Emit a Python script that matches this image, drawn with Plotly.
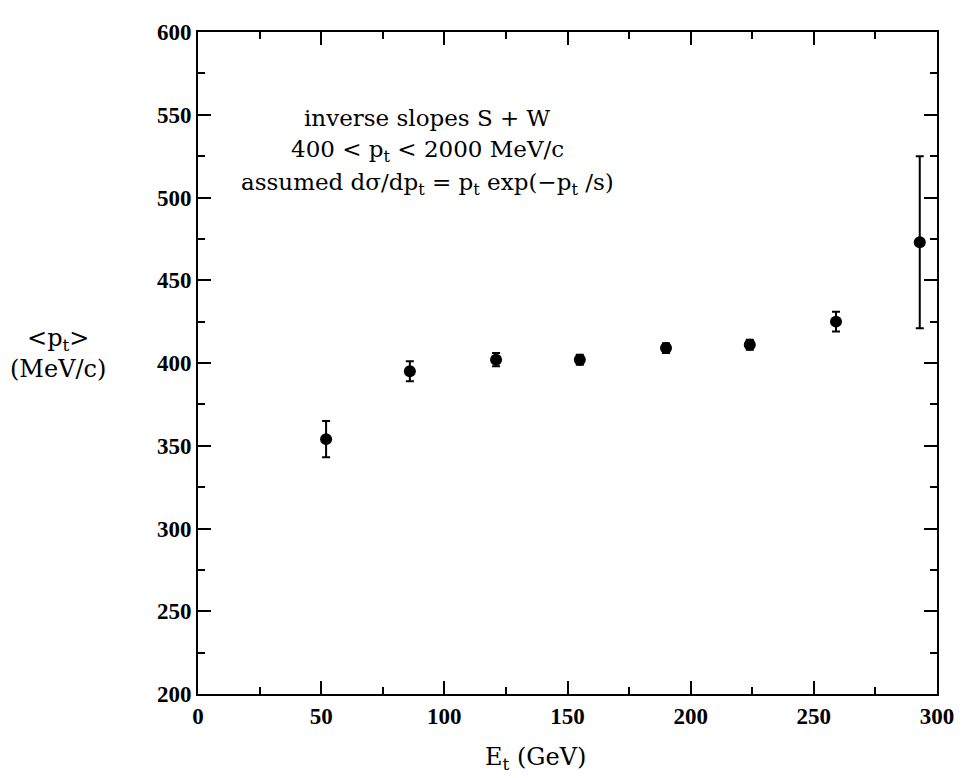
import plotly.graph_objects as go

et_gev = [52, 86, 121, 155, 190, 224, 259, 293]
mean_pt = [354, 395, 402, 402, 409, 411, 425, 473]
pt_err = [11, 6, 4, 3, 3, 3, 6, 52]

x_ticks = [0, 50, 100, 150, 200, 250, 300]
y_ticks = [200, 250, 300, 350, 400, 450, 500, 550, 600]

annot_lines = ["inverse slopes S + W",
               "400 < p<sub>t</sub> < 2000 MeV/c",
               "assumed dσ/dp<sub>t</sub> = p<sub>t</sub> exp(−p<sub>t</sub> /s)"]

fig = go.Figure()
fig.add_trace(go.Scatter(
    x=et_gev, y=mean_pt, mode="markers",
    marker=dict(color="black", size=12, symbol="circle"),
    error_y=dict(type="data", array=pt_err, color="black", thickness=2, width=4),
    showlegend=False,
))

tickfont = dict(family="Liberation Serif", size=23, color="black")
common = dict(showgrid=False, zeroline=False, showline=True, linecolor="black",
              linewidth=2, mirror="allticks", ticks="inside", ticklen=13,
              tickwidth=2, tickcolor="black", tickfont=tickfont,
              minor=dict(ticks="inside", ticklen=7, tickwidth=2, tickcolor="black"))

fig.update_xaxes(range=[0, 300], tickvals=x_ticks,
                 ticktext=[f"<b>{v}</b>" for v in x_ticks],
                 minor_dtick=25, **common)
fig.update_yaxes(range=[200, 600], tickvals=y_ticks,
                 ticktext=[f"<b>{v}</b>" for v in y_ticks],
                 minor_dtick=25, **common)

serif = dict(family="DejaVu Serif", size=23, color="black")
for i, line in enumerate(annot_lines):
    fig.add_annotation(x=0.31, y=0.87 - i * 0.05, xref="paper", yref="paper",
                       text=line, showarrow=False, font=serif,
                       xanchor="center", yanchor="middle")
fig.add_annotation(x=-0.19, y=0.515, xref="paper", yref="paper",
                   text="<p<sub>t</sub>><br>(MeV/c)", showarrow=False,
                   font=dict(family="DejaVu Serif", size=24, color="black"),
                   align="center", xanchor="center", yanchor="middle")
fig.add_annotation(x=0.457, y=-0.097, xref="paper", yref="paper",
                   text="E<sub>t</sub> (GeV)", showarrow=False,
                   font=dict(family="DejaVu Serif", size=24, color="black"),
                   xanchor="center", yanchor="middle")

fig.update_layout(width=966, height=778, plot_bgcolor="white", paper_bgcolor="white",
                  margin=dict(l=190, r=37, t=24, b=92))
fig.write_html("out.html")
